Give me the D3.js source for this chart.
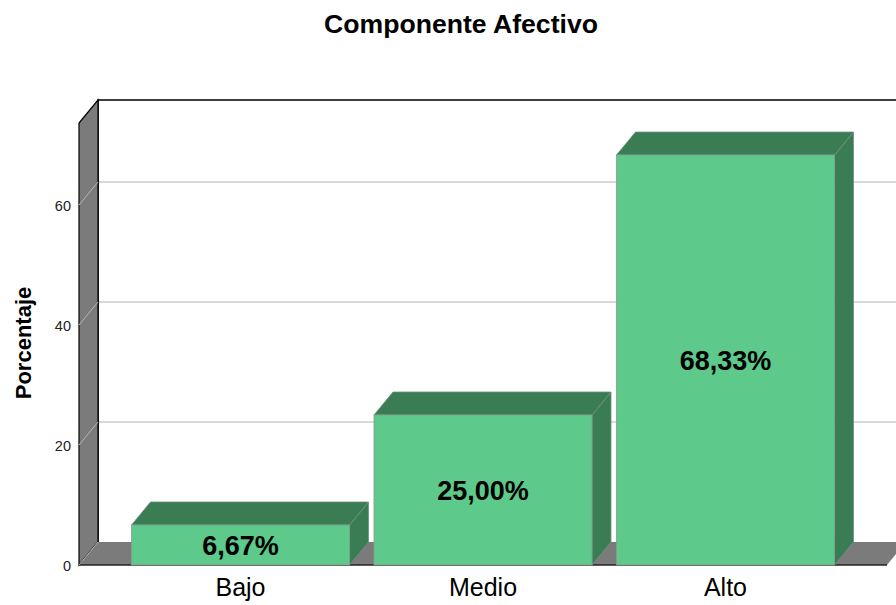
<!DOCTYPE html>
<html>
<head>
<meta charset="utf-8">
<script src="https://cdn.jsdelivr.net/npm/d3@7/dist/d3.min.js"></script>
<style>
  html, body { margin: 0; padding: 0; background: #fff; }
  svg { display: block; font-family: "Liberation Sans", Arial, sans-serif; }
</style>
</head>
<body>
<svg id="chart" width="896" height="605"></svg>
<script>
// ---- data ----
const categories = ["Bajo", "Medio", "Alto"];
const values = [6.67, 25.00, 68.33];
const valueLabels = ["6,67%", "25,00%", "68,33%"];
const yTicks = [0, 20, 40, 60];
const title = "Componente Afectivo";
const yTitle = "Porcentaje";

// ---- layout ----
const W = 896, H = 605;
const xFront0 = 79, xFront1 = 887;
const yBase = 565;
const depthX = 19, depthY = 23;
const yTop = 123;         // front top of the wall
const yMax = 73.67;

const svg = d3.select("#chart");

const x = d3.scaleBand()
  .domain(categories)
  .range([xFront0, xFront1])
  .paddingInner(0.101)
  .paddingOuter(0.2165);

const y = d3.scaleLinear().domain([0, yMax]).range([yBase, yTop]);

const wallColor = "#7b7b7b";
const gridColor = "#b4b4b4";
const frontColor = "#5dc98b";
const darkColor = "#3a7d55";
const edgeColor = "#6f8f7c";

// back wall
svg.append("rect")
  .attr("x", xFront0 + depthX).attr("y", y(yMax) - depthY)
  .attr("width", W).attr("height", y(0) - y(yMax))
  .attr("fill", "#fff");

// back-wall gridlines
svg.append("g").selectAll("line")
  .data(yTicks.filter(d => d > 0))
  .join("line")
  .attr("x1", xFront0 + depthX).attr("x2", W + 20)
  .attr("y1", d => y(d) - depthY).attr("y2", d => y(d) - depthY)
  .attr("stroke", gridColor).attr("stroke-width", 1.2);

// back wall border (top + left)
svg.append("path")
  .attr("d", `M${xFront0 + depthX},${y(0) - depthY} L${xFront0 + depthX},${y(yMax) - depthY} L${W + 20},${y(yMax) - depthY}`)
  .attr("fill", "none").attr("stroke", "#000").attr("stroke-width", 1.6);

// left side wall
svg.append("path")
  .attr("d", `M${xFront0},${y(0)} L${xFront0},${y(yMax)} L${xFront0 + depthX},${y(yMax) - depthY} L${xFront0 + depthX},${y(0) - depthY} Z`)
  .attr("fill", wallColor).attr("stroke", "#000").attr("stroke-width", 1.2);

// floor
svg.append("path")
  .attr("d", `M${xFront0},${y(0)} L${xFront0 + depthX},${y(0) - depthY} L${xFront1 + depthX},${y(0) - depthY} L${xFront1},${y(0)} Z`)
  .attr("fill", wallColor).attr("stroke", "none");
svg.append("line")
  .attr("x1", xFront0).attr("x2", xFront1).attr("y1", y(0)).attr("y2", y(0))
  .attr("stroke", "#222").attr("stroke-width", 1.6);

// side-wall gridlines (diagonals)
svg.append("g").selectAll("line")
  .data(yTicks)
  .join("line")
  .attr("x1", xFront0).attr("x2", xFront0 + depthX)
  .attr("y1", d => y(d)).attr("y2", d => y(d) - depthY)
  .attr("stroke", gridColor).attr("stroke-width", 1);

// bars
const bars = svg.append("g").selectAll("g")
  .data(categories.map((c, i) => ({ c, v: values[i], label: valueLabels[i] })))
  .join("g");

bars.append("path") // side face
  .attr("d", d => {
    const x1 = x(d.c) + x.bandwidth();
    return `M${x1},${y(d.v)} L${x1 + depthX},${y(d.v) - depthY} L${x1 + depthX},${y(0) - depthY} L${x1},${y(0)} Z`;
  })
  .attr("fill", darkColor).attr("stroke", edgeColor).attr("stroke-width", 0.8);

bars.append("path") // top face
  .attr("d", d => {
    const x0 = x(d.c), x1 = x0 + x.bandwidth();
    return `M${x0},${y(d.v)} L${x0 + depthX},${y(d.v) - depthY} L${x1 + depthX},${y(d.v) - depthY} L${x1},${y(d.v)} Z`;
  })
  .attr("fill", darkColor).attr("stroke", edgeColor).attr("stroke-width", 0.8);

bars.append("rect") // front face
  .attr("x", d => x(d.c)).attr("y", d => y(d.v))
  .attr("width", x.bandwidth()).attr("height", d => y(0) - y(d.v))
  .attr("fill", frontColor).attr("stroke", "#8a9a90").attr("stroke-width", 0.8);

bars.append("text")
  .attr("x", d => x(d.c) + x.bandwidth() / 2)
  .attr("y", d => (y(d.v) + y(0)) / 2)
  .attr("dy", "0.36em")
  .attr("text-anchor", "middle")
  .attr("font-weight", "bold").attr("font-size", 27)
  .attr("fill", "#000")
  .text(d => d.label);

// y axis
const yAxis = svg.append("g")
  .attr("transform", `translate(${xFront0},0)`)
  .call(d3.axisLeft(y).tickValues(yTicks).tickSize(0).tickPadding(8).tickFormat(d3.format("d")));
yAxis.select(".domain").remove();
yAxis.selectAll("text")
  .attr("font-size", 14.5).attr("fill", "#222")
  .attr("font-family", "'Liberation Sans', Arial, sans-serif")
  .attr("dy", "0.4em");

// x axis
const xAxis = svg.append("g")
  .attr("transform", `translate(0,${yBase})`)
  .call(d3.axisBottom(x).tickSize(0).tickPadding(13));
xAxis.select(".domain").remove();
xAxis.selectAll("text")
  .attr("font-size", 25).attr("fill", "#000")
  .attr("font-family", "'Liberation Sans', Arial, sans-serif");

// titles
svg.append("text")
  .attr("x", 461).attr("y", 33)
  .attr("text-anchor", "middle")
  .attr("font-weight", "bold").attr("font-size", 26.6)
  .text(title);

svg.append("text")
  .attr("transform", "translate(31,343) rotate(-90)")
  .attr("text-anchor", "middle")
  .attr("font-weight", "bold").attr("font-size", 22)
  .text(yTitle);
</script>
</body>
</html>
